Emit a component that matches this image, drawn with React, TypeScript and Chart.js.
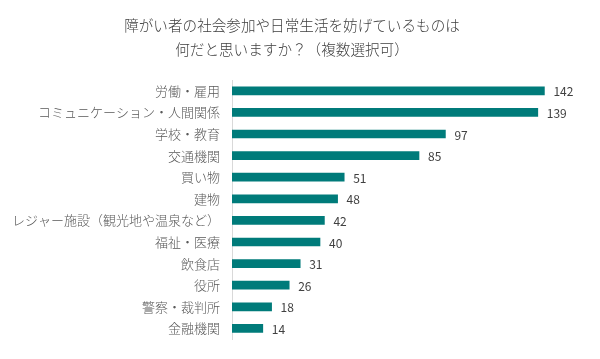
import React, { useEffect, useRef } from "react";
import { Chart, registerables } from "chart.js";

Chart.register(...registerables);

const titleLines = ["障がい者の社会参加や日常生活を妨げているものは", "何だと思いますか？（複数選択可）"];
const categories = [
  "労働・雇用",
  "コミュニケーション・人間関係",
  "学校・教育",
  "交通機関",
  "買い物",
  "建物",
  "レジャー施設（観光地や温泉など）",
  "福祉・医療",
  "飲食店",
  "役所",
  "警察・裁判所",
  "金融機関",
];
const values = [142, 139, 97, 85, 51, 48, 42, 40, 31, 26, 18, 14];
const xMax = 160;

const FONT = "'Noto Sans CJK JP', 'Noto Sans', sans-serif";

const valueLabels = {
  id: "valueLabels",
  afterDatasetsDraw(chart: any) {
    const ctx = chart.ctx;
    const meta = chart.getDatasetMeta(0);
    ctx.save();
    ctx.font = `12px ${FONT}`;
    ctx.fillStyle = "#404040";
    ctx.textAlign = "left";
    ctx.textBaseline = "middle";
    meta.data.forEach((bar: any, i: number) => {
      ctx.fillText(String(values[i]), bar.x + 9, bar.y + 1);
    });
    ctx.restore();
  },
};

export default function App() {
  const ref = useRef<HTMLCanvasElement | null>(null);
  useEffect(() => {
    if (!ref.current) return;
    const chart = new Chart(ref.current, {
      type: "bar",
      data: {
        labels: categories,
        datasets: [
          {
            data: values,
            backgroundColor: "#007B7A",
            barThickness: 8,
          },
        ],
      },
      options: {
        indexAxis: "y",
        animation: false,
        responsive: false,
        maintainAspectRatio: false,
        layout: { padding: { top: 0, bottom: 17, left: 0, right: 16 } },
        plugins: {
          legend: { display: false },
          tooltip: { enabled: false },
          title: {
            display: true,
            text: titleLines,
            color: "#404040",
            font: { family: FONT, size: 14.6, weight: 300, lineHeight: "24px" },
            padding: { top: 13, bottom: 19 },
          },
        },
        scales: {
          x: {
            display: false,
            min: 0,
            max: xMax,
          },
          y: {
            grid: { display: false, drawTicks: false },
            border: { display: true, color: "#d9d9d9", width: 1 },
            ticks: {
              color: "#595959",
              font: { family: FONT, size: 13, weight: 300 },
              padding: 12,
            },
            afterFit(scale: any) {
              scale.width = 232;
            },
          },
        },
      },
      plugins: [valueLabels],
    });
    return () => chart.destroy();
  }, []);
  return (
    <div style={{ position: "fixed", left: 0, top: 0, width: 600, height: 359, background: "#fff" }}>
      <canvas ref={ref} width={600} height={359} />
    </div>
  );
}
